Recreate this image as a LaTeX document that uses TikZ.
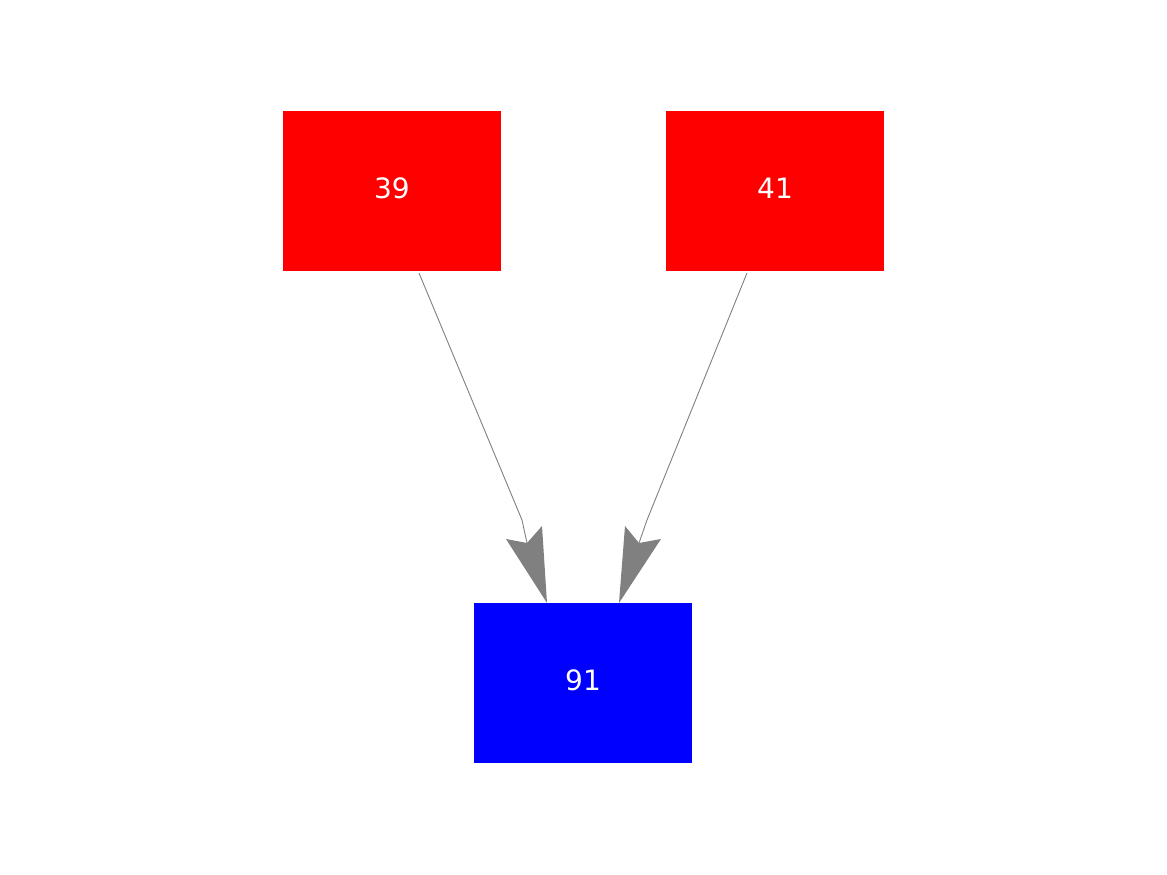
\documentclass[tikz,border=0pt]{standalone}
\usepackage{fontspec}
\setmainfont{DejaVu Sans}
\begin{document}
\begin{tikzpicture}[x=1pt,y=-1pt,
  box/.style={rectangle,draw=none,minimum width=218pt,minimum height=160pt,inner sep=0pt,text=white,text depth=5pt,font=\fontsize{28}{32}\selectfont},
  edge/.style={draw=gray,line width=0.9pt},
  head/.style={fill=gray,draw=none}]
\useasboundingbox (0,0) rectangle (1167,875);
\node[box,fill=red] (n39) at (392,191) {39};
\node[box,fill=red] (n41) at (775,191) {41};
\node[box,fill=blue] (n91) at (583,683) {91};
% left edge
\coordinate (a1) at (419,273);
\coordinate (a2) at (522,520);
\coordinate (an) at (527,543);
\coordinate (at) at (547,603);
\coordinate (al) at (506,539);
\coordinate (ar) at (542,526);
\draw[edge] (a1) -- (a2) -- (an);
\fill[head] (at) -- (al) -- (an) -- (ar) -- cycle;
% right edge
\coordinate (b1) at (747,273);
\coordinate (b2) at (647,520);
\coordinate (bn) at (639,543);
\coordinate (bt) at (619,603);
\coordinate (bl) at (625,526);
\coordinate (br) at (661,539);
\draw[edge] (b1) -- (b2) -- (bn);
\fill[head] (bt) -- (bl) -- (bn) -- (br) -- cycle;
\end{tikzpicture}
\end{document}
